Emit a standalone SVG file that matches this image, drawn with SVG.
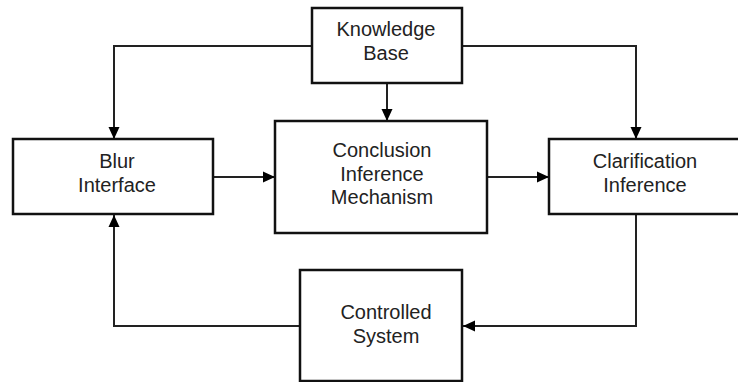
<svg xmlns="http://www.w3.org/2000/svg" width="738" height="382" viewBox="0 0 738 382">
<defs>
<marker id="ah" markerWidth="12" markerHeight="12" viewBox="0 0 12 12" refX="12" refY="6" orient="auto" markerUnits="userSpaceOnUse">
<path d="M0,0.5 L12,6 L0,11.5 Z" fill="#000"/>
</marker>
</defs>
<style>
.box{fill:#fff;stroke:#111;stroke-width:2.5}
.lbl{font-family:"Liberation Sans",Arial,sans-serif;font-size:20px;fill:#222;text-anchor:middle}
.c{fill:none;stroke:#222;stroke-width:2;marker-end:url(#ah)}
</style>
<rect width="738" height="382" fill="#fff"/>
<g id="connectors">
<path class="c" d="M312,46 H114 V139"/>
<path class="c" d="M387,83 V121"/>
<path class="c" d="M462,46 H636 V139"/>
<path class="c" d="M213,177 H275"/>
<path class="c" d="M487,177 H549"/>
<path class="c" d="M636,214 V326 H463"/>
<path class="c" d="M300,326 H114 V215"/>
</g>
<g id="knowledge-base">
<rect class="box" x="312" y="8" width="150" height="75"/>
<text class="lbl" x="386" y="36">Knowledge</text>
<text class="lbl" x="386" y="60">Base</text>
</g>
<g id="blur-interface">
<rect class="box" x="13" y="139" width="200" height="75"/>
<text class="lbl" x="117" y="168">Blur</text>
<text class="lbl" x="117" y="192">Interface</text>
</g>
<g id="conclusion">
<rect class="box" x="275" y="121" width="212" height="112"/>
<text class="lbl" x="382" y="157">Conclusion</text>
<text class="lbl" x="382" y="181">Inference</text>
<text class="lbl" x="382" y="204">Mechanism</text>
</g>
<g id="clarification">
<rect class="box" x="549" y="139" width="200" height="75"/>
<text class="lbl" x="645" y="168">Clarification</text>
<text class="lbl" x="645" y="192">Inference</text>
</g>
<g id="controlled-system">
<rect class="box" x="300" y="270" width="162" height="111"/>
<text class="lbl" x="386" y="319">Controlled</text>
<text class="lbl" x="386" y="343">System</text>
</g>
</svg>
